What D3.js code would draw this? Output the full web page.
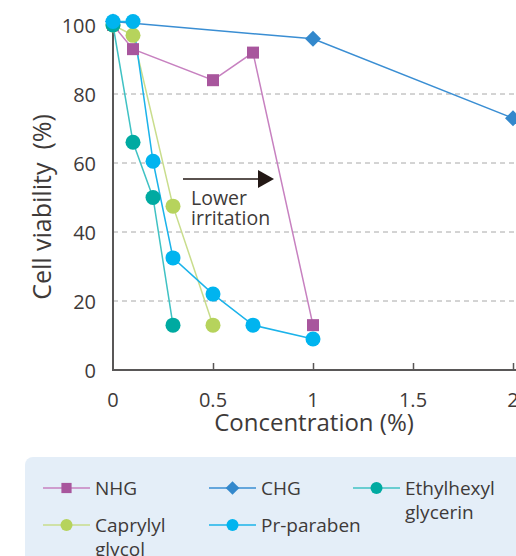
<!DOCTYPE html>
<html><head><meta charset="utf-8">
<script src="https://cdn.jsdelivr.net/npm/d3@7"></script>
<style>body{margin:0;background:#fff}svg{display:block}</style>
</head><body>
<svg id="c" width="516" height="556"></svg>
<script>
const xTicks = [0, 0.5, 1, 1.5, 2];
const xTickLabels = ["0", "0.5", "1", "1.5", "2"];
const yTicks = [0, 20, 40, 60, 80, 100];
const yTickLabels = ["0", "20", "40", "60", "80", "100"];
const gridValues = [20, 40, 60, 80];

const nhgX = [0, 0.1, 0.5, 0.7, 1.0];
const nhgY = [100, 93, 84, 92, 13];
const chgX = [0, 1, 2];
const chgY = [101, 96, 73];
const ethX = [0, 0.1, 0.2, 0.3];
const ethY = [100, 66, 50, 13];
const capX = [0, 0.1, 0.3, 0.5];
const capY = [100, 97, 47.5, 13];
const prX = [0, 0.1, 0.2, 0.3, 0.5, 0.7, 1.0];
const prY = [101, 101, 60.5, 32.5, 22, 13, 9];

const series = [
  {name: "CHG", xs: chgX, ys: chgY, line: "#3a8ed3", fill: "#3388cc", shape: "diamond"},
  {name: "NHG", xs: nhgX, ys: nhgY, line: "#c781c0", fill: "#a8569d", shape: "square"},
  {name: "Caprylyl glycol", xs: capX, ys: capY, line: "#c9dd8c", fill: "#b6d35c", shape: "circle"},
  {name: "Ethylhexyl glycerin", xs: ethX, ys: ethY, line: "#40c2c4", fill: "#00aaa1", shape: "circle"},
  {name: "Pr-paraben", xs: prX, ys: prY, line: "#1bb3ea", fill: "#00b4ef", shape: "circle"}
];

const font = "'Open Sans', 'Noto Sans', sans-serif";
const txt = "#3e3a39";
const svg = d3.select("#c");
const x = d3.scaleLinear().domain([0, 2]).range([113, 513]);
const y = d3.scaleLinear().domain([0, 100]).range([370, 25]);

// gridlines
svg.append("g").selectAll("line").data(gridValues).join("line")
  .attr("x1", x(0)).attr("x2", 516).attr("y1", d => y(d)).attr("y2", d => y(d))
  .attr("stroke", "#a8a8a8").attr("stroke-width", 1).attr("stroke-dasharray", "5,4");

// x axis
const xAxis = d3.axisTop(x).tickValues(xTicks.slice(1)).tickSize(7).tickFormat("");
const gx = svg.append("g").attr("transform", `translate(0,${y(0)})`).call(xAxis);
gx.select(".domain").remove();
gx.selectAll(".tick line").attr("stroke", "#595757").attr("stroke-width", 1.5);
svg.append("line").attr("x1", x(0)).attr("x2", 516).attr("y1", y(0)).attr("y2", y(0))
  .attr("stroke", "#595757").attr("stroke-width", 2);
svg.append("line").attr("x1", x(0)).attr("x2", x(0)).attr("y1", y(0)+1).attr("y2", 23)
  .attr("stroke", "#595757").attr("stroke-width", 2);

svg.append("g").selectAll("text").data(xTicks).join("text")
  .attr("x", d => x(d)).attr("y", 407).attr("text-anchor", "middle")
  .attr("font-family", font).attr("font-size", 20).attr("fill", txt)
  .text((d, i) => xTickLabels[i]);
svg.append("g").selectAll("text").data(yTicks).join("text")
  .attr("x", 96).attr("y", d => y(d) + 8).attr("text-anchor", "end")
  .attr("font-family", font).attr("font-size", 20).attr("fill", txt)
  .text((d, i) => yTickLabels[i]);

svg.append("text").attr("x", 314).attr("y", 431).attr("text-anchor", "middle")
  .attr("font-family", font).attr("font-size", 24).attr("fill", txt).text("Concentration (%)");
svg.append("text").attr("transform", "translate(51,207) rotate(-90)").attr("text-anchor", "middle")
  .attr("font-family", font).attr("font-size", 25).attr("fill", txt).attr("xml:space", "preserve")
  .text("Cell viability  (%)");

// arrow
svg.append("line").attr("x1", 183).attr("x2", 260).attr("y1", 179).attr("y2", 179)
  .attr("stroke", "#231815").attr("stroke-width", 1.5);
svg.append("path").attr("d", "M258,170 L274,179 L258,188 Z").attr("fill", "#231815");
svg.append("text").attr("x", 191).attr("y", 205).attr("font-family", font).attr("font-size", 19.5).attr("fill", txt).text("Lower");
svg.append("text").attr("x", 191).attr("y", 225).attr("font-family", font).attr("font-size", 19.5).attr("fill", txt).text("irritation");

function marker(g, shape, fill, s) {
  if (shape === "square") g.append("rect").attr("x", -6*s).attr("y", -6*s).attr("width", 12*s).attr("height", 12*s).attr("fill", fill);
  else if (shape === "diamond") g.append("path").attr("d", `M0,${-8*s} L${8*s},0 L0,${8*s} L${-8*s},0 Z`).attr("fill", fill);
  else g.append("circle").attr("r", 7.5*s).attr("fill", fill);
}

const plot = svg.append("g");
const lineGen = d3.line().x(d => x(d[0])).y(d => y(d[1]));
series.forEach(s => {
  const pts = s.xs.map((v, i) => [v, s.ys[i]]);
  plot.append("path").attr("d", lineGen(pts)).attr("fill", "none").attr("stroke", s.line).attr("stroke-width", 1.5);
});
series.forEach(s => {
  s.xs.forEach((v, i) => {
    const g = plot.append("g").attr("transform", `translate(${x(v)},${y(s.ys[i])})`);
    marker(g, s.shape, s.fill, 1);
  });
});

// legend
svg.append("rect").attr("x", 25).attr("y", 457).attr("width", 520).attr("height", 120).attr("rx", 8).attr("fill", "#e4eef8");
const legendItems = [
  {s: series[1], lx: 43, ly: 488, lines: ["NHG"]},
  {s: series[0], lx: 209, ly: 488, lines: ["CHG"]},
  {s: series[3], lx: 353, ly: 488, lines: ["Ethylhexyl", "glycerin"]},
  {s: series[2], lx: 43, ly: 525, lines: ["Caprylyl", "glycol"]},
  {s: series[4], lx: 209, ly: 525, lines: ["Pr-paraben"]}
];
legendItems.forEach(it => {
  const g = svg.append("g").attr("transform", `translate(${it.lx},${it.ly})`);
  g.append("line").attr("x1", 0).attr("x2", 47).attr("stroke", it.s.line).attr("stroke-width", 1.5);
  const m = g.append("g").attr("transform", "translate(23.5,0)");
  marker(m, it.s.shape, it.s.fill, it.s.shape === "circle" ? 0.8 : 0.85);
  it.lines.forEach((t, i) => {
    g.append("text").attr("x", 52).attr("y", 7 + i * 24).attr("font-family", font).attr("font-size", 19).attr("fill", txt).text(t);
  });
});
</script>
</body></html>
